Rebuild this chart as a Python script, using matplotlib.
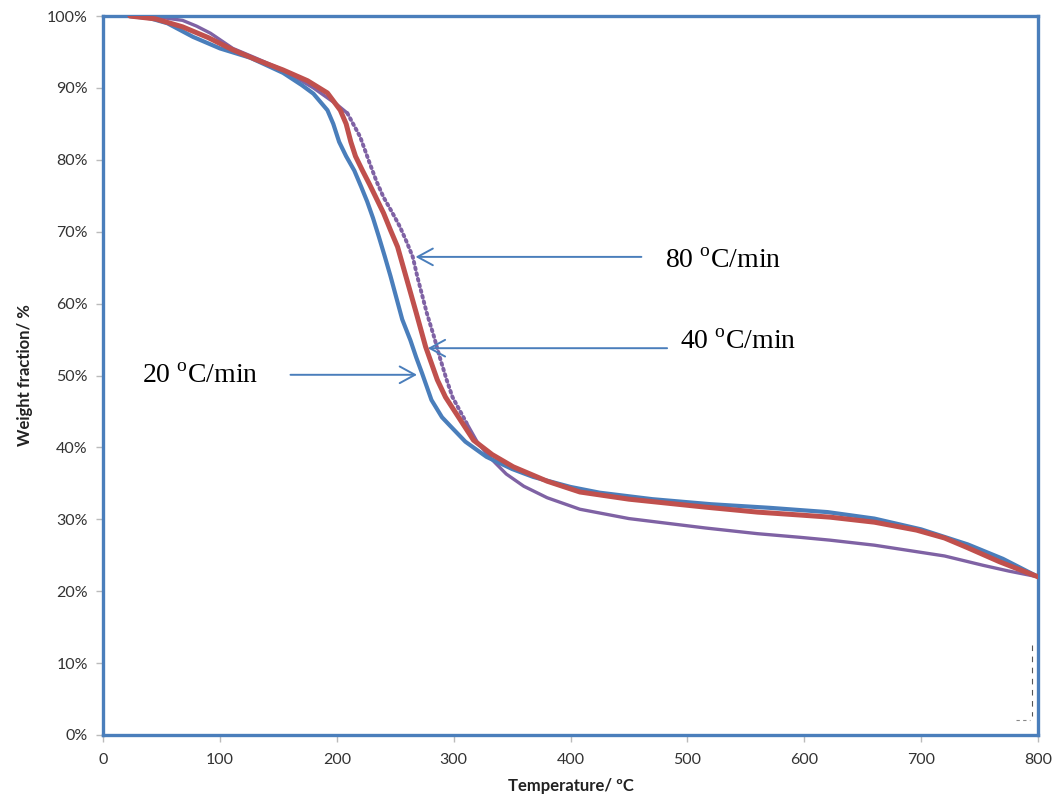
import matplotlib
matplotlib.use("Agg")
import matplotlib.pyplot as plt
from matplotlib.ticker import FuncFormatter
from matplotlib.lines import Line2D

# TGA weight-loss curves at three heating rates
t_20 = [23, 40, 55, 77, 100, 126, 154, 170, 180, 192, 197, 202, 208, 215, 221, 226, 231, 236, 241, 246, 251, 256,
        263, 268, 273, 281, 290, 297, 310, 328, 350, 368, 400, 425, 470, 520, 570, 620, 660, 700,
        740, 770, 800]
w_20 = [100, 99.7, 99.0, 97.1, 95.5, 94.2, 92.1, 90.4, 89.2, 86.9, 85.0, 82.5, 80.5, 78.5, 76.2, 74.2,
        71.9, 69.3, 66.6, 63.8, 60.8, 57.8, 54.9, 52.5, 50.3, 46.6, 44.2, 43.0, 40.8, 38.7, 37.0, 35.9,
        34.5, 33.7, 32.8, 32.1, 31.6, 31.0, 30.1, 28.6, 26.5, 24.5, 22.0]

t_40 = [23, 45, 68, 90, 111, 130, 154, 175, 192, 203, 208, 212, 216, 222, 228, 234, 240, 246, 252, 260, 268,
        276, 286, 293, 305, 317, 333, 351, 380, 408, 450, 515, 560, 596, 622, 660, 696, 720, 739,
        767, 800]
w_40 = [100, 99.6, 98.5, 97.0, 95.3, 94.0, 92.5, 91.0, 89.3, 86.9, 85.0, 82.5, 80.5, 78.5, 76.6, 74.6,
        72.6, 70.2, 67.9, 63.3, 58.7, 54.0, 49.4, 47.0, 44.0, 41.0, 39.0, 37.3, 35.3, 33.8, 32.8, 31.7,
        31.0, 30.6, 30.3, 29.6, 28.5, 27.4, 26.1, 24.1, 22.0]

t_80 = [31, 50, 68, 80, 92, 111, 130, 154, 180, 200, 209]
w_80 = [100, 99.8, 99.4, 98.6, 97.6, 95.5, 94.2, 92.5, 90.0, 87.7, 86.5]
t_80_dot = [209, 214, 220, 228, 234, 240, 247, 254, 260, 265, 269, 277, 283, 288, 294, 299, 305, 311]
w_80_dot = [86.5, 85.0, 83.2, 79.6, 77.0, 74.8, 72.8, 70.7, 68.5, 66.5, 63.7, 58.7, 55.5, 52.6, 49.4,
            47.0, 45.2, 43.4]
t_80_tail = [311, 320, 331, 345, 360, 380, 408, 450, 515, 560, 596, 622, 660, 696, 720, 753, 775, 800]
w_80_tail = [43.4, 40.8, 38.6, 36.3, 34.6, 33.0, 31.4, 30.1, 28.8, 28.0, 27.5, 27.1, 26.4, 25.5,
             24.9, 23.6, 22.8, 22.0]

rate_labels = ["80 $^{\\mathrm{o}}$C/min", "40 $^{\\mathrm{o}}$C/min", "20 $^{\\mathrm{o}}$C/min"]
label_xy = [(481, 65.8), (494, 54.6), (33, 49.8)]
arrow_from = [(463, 66.5), (485, 53.8), (158, 50.1)]
arrow_to = [(265, 66.5), (275.5, 53.8), (271, 50.1)]

blue = "#4A7EBB"
red = "#C0504D"
purple = "#7F62A4"

plt.rcParams["mathtext.fontset"] = "custom"
plt.rcParams["mathtext.rm"] = "Liberation Serif"

fig = plt.figure(figsize=(10.59, 8.10), dpi=100)
ax = fig.add_axes([0.0973, 0.0926, 0.8829, 0.8876])

ax.plot(t_80, w_80, color=purple, lw=2.4, solid_capstyle="round", zorder=2)
ax.plot(t_80_dot, w_80_dot, color=purple, lw=2.8, linestyle=(0, (0.5, 1.0)),
        dash_capstyle="round", zorder=2)
ax.plot(t_80_tail, w_80_tail, color=purple, lw=2.4, solid_capstyle="round", zorder=2)
ax.plot(t_20, w_20, color=blue, lw=3.0, solid_capstyle="round", zorder=3)
ax.plot(t_40, w_40, color=red, lw=3.6, solid_capstyle="round", zorder=4)

for lab, xy, a0, a1 in zip(rate_labels, label_xy, arrow_from, arrow_to):
    ax.annotate("", xy=a1, xytext=a0,
                arrowprops=dict(arrowstyle="->,head_length=1.1,head_width=0.6",
                                color=blue, lw=1.4), zorder=5)
    ax.text(xy[0], xy[1], lab, fontsize=20, family="Liberation Serif",
            va="center", ha="left", color="black")

ax.set_xlim(0, 800)
ax.set_ylim(0, 100)
ax.set_xticks(range(0, 801, 100))
ax.set_yticks(range(0, 101, 10))
ax.yaxis.set_major_formatter(FuncFormatter(lambda v, p: "%d%%" % v))

for s in ax.spines.values():
    s.set_color(blue)
    s.set_linewidth(2.4)
ax.tick_params(axis="both", direction="out", length=5, width=1, color="#BBBBBB",
               labelsize=11.5, labelcolor="#333333")
ax.tick_params(axis="x", pad=8)
ax.tick_params(axis="y", pad=6)
for tl in ax.get_xticklabels() + ax.get_yticklabels():
    tl.set_family("Lato")

ax.set_xlabel("Temperature/ \u00baC", fontsize=12, fontweight="bold", family="Lato",
              color="#222222", labelpad=8)
ax.set_ylabel("Weight fraction/ %", fontsize=12, fontweight="bold", family="Lato",
              color="#222222", labelpad=10)

# small dashed corner mark near the lower right of the frame
fig.add_artist(Line2D([1032 / 1059, 1032 / 1059], [1 - 645 / 810, 1 - 716 / 810],
                      color="#555555", lw=0.8, linestyle=(0, (5, 5))))
fig.add_artist(Line2D([1016 / 1059, 1030 / 1059], [1 - 720 / 810, 1 - 720 / 810],
                      color="#888888", lw=0.8, linestyle=(0, (3, 3))))

fig.savefig("out.png", dpi=100)
